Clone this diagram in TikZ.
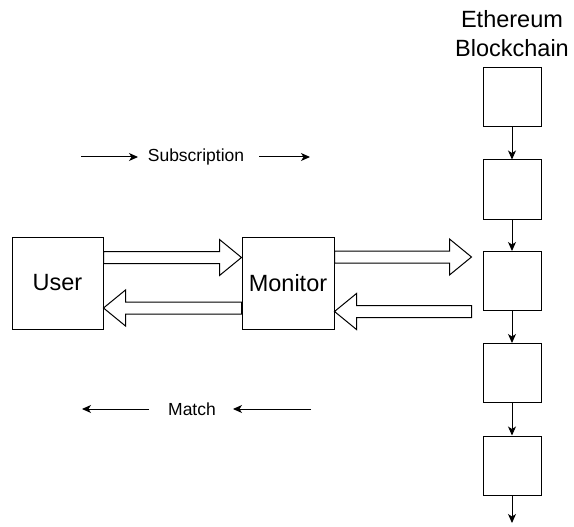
\documentclass[tikz,border=0pt]{standalone}
\usepackage{fontspec}
\setmainfont{Liberation Sans}
\usetikzlibrary{arrows.meta,calc}

\tikzset{
  box/.style={draw=black, line width=1pt, fill=white, inner sep=0pt,
    font=\fontsize{23.5}{28}\selectfont},
  block/.style={draw=black, line width=1pt, fill=white,
    minimum width=58pt, minimum height=59pt, inner sep=0pt},
  thin/.style={draw=black, line width=1pt,
    -{Stealth[length=9pt,width=8pt,inset=2.5pt]}},
  fat/.style={draw=black, line width=1pt, fill=white, line join=miter},
  small/.style={font=\fontsize{17.5}{21}\selectfont, inner sep=0pt},
  big/.style={font=\fontsize{23.5}{29}\selectfont, inner sep=0pt, align=center}
}

% hollow block arrow from #1 to #2 (horizontal), shaft half width 6, head 18 x 22
\newcommand{\fatarrow}[2]{%
  \path[fat] let \p1=#1, \p2=#2, \n1={(\x2-\x1)/abs(\x2-\x1)} in
    (\x1,\y1+6pt) -- (\x2-\n1*22pt,\y1+6pt) -- (\x2-\n1*22pt,\y1+18pt)
    -- (\x2,\y1) -- (\x2-\n1*22pt,\y1-18pt) -- (\x2-\n1*22pt,\y1-6pt)
    -- (\x1,\y1-6pt) -- cycle;}

\begin{document}
\begin{tikzpicture}[x=1pt,y=-1pt]
\useasboundingbox (0,0) rectangle (574,527);

% participants
\node[box, minimum width=91pt, minimum height=92pt] (user) at (57.5,283) {User};
\node[box, minimum width=92pt, minimum height=92pt] (monitor) at (288,283) {Monitor};

% chain of blocks
\node[big] (chain) at (512,34) {Ethereum\\Blockchain};
\node[block] (b1) at (512,97.5) {};
\node[block] (b2) at (512,189.5) {};
\node[block] (b3) at (512,281) {};
\node[block] (b4) at (512,373) {};
\node[block] (b5) at (512,465.5) {};
\coordinate (bend) at (512,523);

\draw[thin] (b1) -- (b2);
\draw[thin] (b2) -- (b3);
\draw[thin] (b3) -- (b4);
\draw[thin] (b4) -- (b5);
\draw[thin] (b5) -- (bend);

% request and reply flows
\fatarrow{($(user.east)+(0,-25.5)$)}{($(monitor.west)+(0,-26)$)}
\fatarrow{($(monitor.west)+(0,25)$)}{($(user.east)+(0,25)$)}
\fatarrow{($(monitor.east)+(0,-26)$)}{($(b3.west)+(-11,-24)$)}
\fatarrow{($(b3.west)+(-11,30.5)$)}{($(monitor.east)+(0,30.5)$)}

% legend
\node[small] (sub) at (196,157) {Subscription};
\coordinate (s1) at (81,157);
\coordinate (s2) at (138,157);
\coordinate (s3) at (259,157);
\coordinate (s4) at (310,157);
\draw[thin] (s1) -- (s2);
\draw[thin] (s3) -- (s4);

\node[small] (match) at (192,409) {Match};
\coordinate (m1) at (149,409);
\coordinate (m2) at (82,409);
\coordinate (m3) at (311,409);
\coordinate (m4) at (233,409);
\draw[thin] (m1) -- (m2);
\draw[thin] (m3) -- (m4);
\end{tikzpicture}
\end{document}
